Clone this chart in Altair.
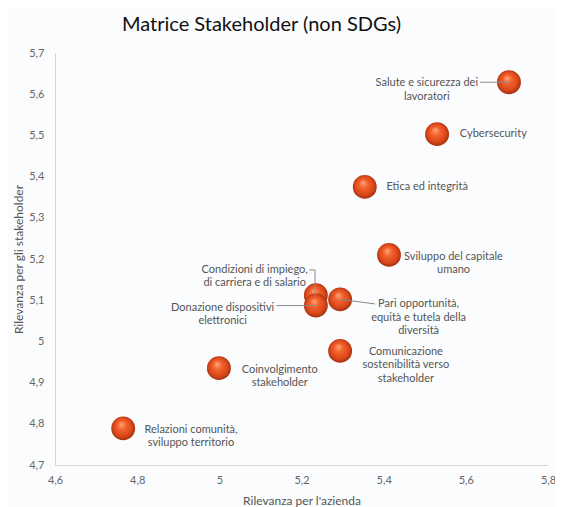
import altair as alt
import pandas as pd

# --- data ---
topics = [
    "Salute e sicurezza dei lavoratori",
    "Cybersecurity",
    "Etica ed integrità",
    "Sviluppo del capitale umano",
    "Condizioni di impiego, di carriera e di salario",
    "Donazione dispositivi elettronici",
    "Pari opportunità, equità e tutela della diversità",
    "Comunicazione sostenibilità verso stakeholder",
    "Coinvolgimento stakeholder",
    "Relazioni comunità, sviluppo territorio",
]
rilevanza_azienda = [5.705, 5.530, 5.354, 5.413, 5.235, 5.235, 5.294, 5.294, 4.999, 4.766]
rilevanza_stakeholder = [5.629, 5.503, 5.375, 5.210, 5.112, 5.087, 5.102, 4.977, 4.935, 4.789]

# label texts (with line breaks as in the picture)
label_text = [
    "Salute e sicurezza dei\nlavoratori",
    "Cybersecurity",
    "Etica ed integrità",
    "Sviluppo del capitale\numano",
    "Condizioni di impiego,\ndi carriera e di salario",
    "Donazione dispositivi\nelettronici",
    "Pari opportunità,\nequità e tutela della\ndiversità",
    "Comunicazione\nsostenibilità verso\nstakeholder",
    "Coinvolgimento\nstakeholder",
    "Relazioni comunità,\nsviluppo territorio",
]
# label anchor (centre of text block) in data units
label_x = [5.505, 5.667, 5.506, 5.570, 5.086, 5.008, 5.485, 5.454, 5.147, 4.931]
label_y = [5.627, 5.503, 5.375, 5.205, 5.174, 5.082, 5.090, 4.975, 4.931, 4.786]

# leader lines: (topic index, order, x, y) – the last point is the bubble
leader_topic = [0, 0, 4, 4, 4, 5, 5, 6, 6]
leader_order = [0, 1, 0, 1, 2, 0, 1, 0, 1]
leader_x = [5.635, 5.705, 5.219, 5.233, 5.233, 5.139, 5.235, 5.294, 5.379]
leader_y = [5.629, 5.629, 5.1735, 5.1735, 5.112, 5.087, 5.087, 5.102, 5.091]

x_ticks = [4.6, 4.8, 5.0, 5.2, 5.4, 5.6, 5.8]
y_ticks = [4.7, 4.8, 4.9, 5.0, 5.1, 5.2, 5.3, 5.4, 5.5, 5.6, 5.7]

pts = pd.DataFrame({
    "topic": topics,
    "x": rilevanza_azienda,
    "y": rilevanza_stakeholder,
    "order": list(range(len(topics))),
})
labs = pd.DataFrame({"text": label_text, "lx": label_x, "ly": label_y})
leads = pd.DataFrame({
    "topic": [topics[i] for i in leader_topic],
    "o": leader_order,
    "x": leader_x,
    "y": leader_y,
})

FONT = "Lato"
comma = "replace(format(datum.value, '.1~f'), '.', ',')"

xscale = alt.Scale(domain=[4.6, 5.8], nice=False, zero=False)
yscale = alt.Scale(domain=[4.7, 5.7], nice=False, zero=False)

xaxis = alt.Axis(
    title="Rilevanza per l'azienda", values=x_ticks, labelExpr=comma,
    ticks=False, tickSize=0, grid=False, labelPadding=9, titlePadding=10,
    labelFlush=False,
    domainColor="#d6d6d6", labelColor="#666666", titleColor="#555555",
    labelFontSize=11, titleFontSize=12, labelFont=FONT, titleFont=FONT,
    titleFontWeight="normal",
)
yaxis = alt.Axis(
    title="Rilevanza per gli stakeholder", values=y_ticks, labelExpr=comma,
    ticks=False, tickSize=0, grid=False, labelPadding=11, titlePadding=3,
    labelFlush=False,
    domainColor="#d6d6d6", labelColor="#666666", titleColor="#555555",
    labelFontSize=11, titleFontSize=12, labelFont=FONT, titleFont=FONT,
    titleFontWeight="normal",
)

ball_fill = alt.RadialGradient(
    gradient="radial",
    x1=0.42, y1=0.32, r1=0.0,
    x2=0.5, y2=0.5, r2=0.55,
    stops=[
        alt.GradientStop(color="#ffa57a", offset=0.0),
        alt.GradientStop(color="#f2612b", offset=0.35),
        alt.GradientStop(color="#d9461a", offset=0.72),
        alt.GradientStop(color="#8f2a0c", offset=1.0),
    ],
)

balls = alt.Chart(pts).mark_point(
    shape="circle", filled=True, fill=ball_fill, size=570, opacity=1,
    strokeWidth=0,
).encode(
    x=alt.X("x:Q", scale=xscale, axis=xaxis),
    y=alt.Y("y:Q", scale=yscale, axis=yaxis),
    order="order:Q",
)

leaders = alt.Chart(leads).mark_line(color="#8a8a8a", strokeWidth=1).encode(
    x=alt.X("x:Q", scale=xscale),
    y=alt.Y("y:Q", scale=yscale),
    detail="topic:N",
    order="o:Q",
)

texts = alt.Chart(labs).mark_text(
    font=FONT, fontSize=11, color="#555555", align="center",
    baseline="middle", lineBreak="\n", lineHeight=13.5,
).encode(
    x=alt.X("lx:Q", scale=xscale),
    y=alt.Y("ly:Q", scale=yscale),
    text="text:N",
)

chart = alt.layer(balls, leaders, texts).properties(
    width=493,
    height=412,
    title=alt.TitleParams(
        "Matrice Stakeholder (non SDGs)", font=FONT, fontSize=20,
        fontWeight="normal", color="#111111", anchor="middle", dx=-40,
        offset=12,
    ),
    autosize=alt.AutoSizeParams(type="none"),
    padding={"left": 47, "top": 45, "right": 7, "bottom": 42},
).configure(background="#fbfcfd").configure_view(stroke=None)

chart.save("out.html", embed_options={"renderer": "svg", "actions": False})
